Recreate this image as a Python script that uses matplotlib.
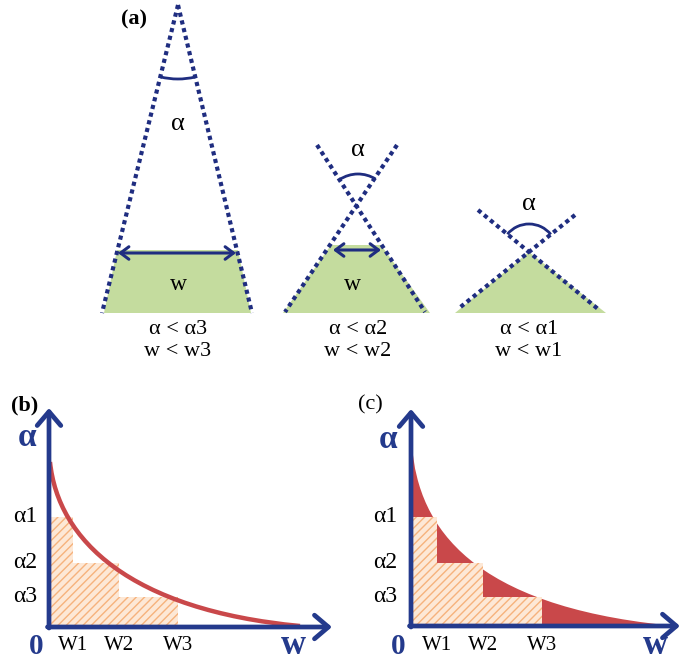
import matplotlib

matplotlib.use("Agg")
import matplotlib.pyplot as plt
from matplotlib.patches import Arc, Polygon, PathPatch
from matplotlib.path import Path

plt.rcParams["font.family"] = ["Liberation Serif", "DejaVu Serif"]
plt.rcParams["hatch.linewidth"] = 1.0

NAVY = "#1f2d80"
AXIS_BLUE = "#243a8c"
RED = "#c9484a"
GREEN = "#c4dc9e"
HATCH = "#f6b27c"
PEACH = "#fde8d6"

# ---- panel (a): three apertures, pixel layout (x right, y down)
# dotted lines: (x0, y0, x1, y1)
lines_a = [
    [(178, 5, 102, 313), (178, 5, 252, 313)],
    [(317, 145, 425, 312), (397, 145, 285, 312)],
    [(478, 210, 598, 309), (575, 215, 458, 309)],
]
green_a = [
    [(117, 250), (238, 250), (251, 313), (104, 313)],
    [(331, 245), (381, 245), (430, 313), (283, 313)],
    [(529, 252), (606, 313), (455, 313)],
]
# angle arcs: centre, radius, theta1, theta2
arcs_a = [((178, 5), 74, 76.5, 103.9), ((358, 207), 33, 236.5, 302.2), ((529, 252), 28, 219.5, 321.2)]
alpha_pos_a = [(178, 124), (358, 150), (529, 204)]
width_arrows = [(118, 236, 253), (333, 381, 250)]
w_text_a = [(178, 284), (352, 285)]
centers_a = [178, 358, 529]
captions_a = [("α < α3", "w < w3"), ("α < α2", "w < w2"), ("α < α1", "w < w1")]

# ---- panels (b) and (c): origin at axis corner, pixel units, y up
w_b = [24, 70, 129]
a_b = [110, 64, 30]
curve_b = [(1, 165), (9, 87), (81, 17), (251, 1)]

w_c = [26, 72, 131]
a_c = [109, 63, 29]
curve_c = [(1, 181), (7, 96), (64, 21), (254, 1)]

w_labels = ["W1", "W2", "W3"]
a_labels = ["α1", "α2", "α3"]

fig = plt.figure(figsize=(6.83, 6.63), dpi=100)
fig.patch.set_facecolor("white")

# panel (a)
ax = fig.add_axes([0, 280 / 663, 1, 383 / 663])
ax.set_xlim(0, 683)
ax.set_ylim(383, 0)
ax.axis("off")

for pts in green_a:
    ax.add_patch(Polygon(pts, closed=True, facecolor=GREEN, edgecolor="none", zorder=1))
for pair in lines_a:
    for x0, y0, x1, y1 in pair:
        ax.plot([x0, x1], [y0, y1], color=NAVY, lw=3.0, linestyle=(0, (1, 0.9)), zorder=3)
for (cx, cy), r, t1, t2 in arcs_a:
    ax.add_patch(Arc((cx, cy), 2 * r, 2 * r, theta1=t1, theta2=t2, color=NAVY, lw=2, zorder=4))
for x, y in alpha_pos_a:
    ax.text(x, y, "α", ha="center", va="center", fontsize=19)
for x0, x1, y in width_arrows:
    ax.annotate("", xy=(x0, y), xytext=(x1, y),
                arrowprops=dict(arrowstyle="<->,head_length=0.6,head_width=0.45", color=NAVY, lw=2.2,
                                shrinkA=0, shrinkB=0), zorder=4)
for x, y in w_text_a:
    ax.text(x, y, "w", ha="center", va="center", fontsize=17)
for x, (c1, c2) in zip(centers_a, captions_a):
    ax.text(x, 330, c1, ha="center", va="center", fontsize=16)
    ax.text(x, 351, c2, ha="center", va="center", fontsize=16)
ax.text(134, 19, "(a)", ha="center", va="center", fontsize=16, fontweight="bold")


def step_poly(ws, als):
    pts = [(0, 0), (0, als[0])]
    for i, w in enumerate(ws):
        pts.append((w, als[i]))
        nxt = als[i + 1] if i + 1 < len(als) else 0
        pts.append((w, nxt))
    return pts


def bezier(cp):
    return Path(cp, [Path.MOVETO, Path.CURVE4, Path.CURVE4, Path.CURVE4])


def draw_axes_arrows(ax, xtip, ytip):
    style = "->,head_length=1.0,head_width=0.85"
    ax.annotate("", xy=(0, ytip), xytext=(0, -1),
                arrowprops=dict(arrowstyle=style, color=AXIS_BLUE, lw=3.4, shrinkA=0, shrinkB=0), zorder=6)
    ax.annotate("", xy=(xtip, 0), xytext=(-1.5, 0),
                arrowprops=dict(arrowstyle=style, color=AXIS_BLUE, lw=3.4, shrinkA=0, shrinkB=0), zorder=6)


def add_labels(ax, ws, als, tag, tag_xy, alpha_xy, ax_label_x, wx):
    ax.text(*tag_xy, tag, ha="center", va="center", fontsize=16,
            fontweight="bold" if tag == "(b)" else "normal")
    ax.text(*alpha_xy, "α", ha="center", va="center", fontsize=24, fontweight="bold", color=AXIS_BLUE)
    for a, lab in zip(als, a_labels):
        ax.text(ax_label_x, a, lab, ha="center", va="center", fontsize=17)
    for w, lab in zip(ws, w_labels):
        ax.text(w, -19, lab, ha="center", va="center", fontsize=15)
    ax.text(-13, -20, "0", ha="center", va="center", fontsize=21, fontweight="bold", color=AXIS_BLUE)
    ax.text(wx, -19, "w", ha="center", va="center", fontsize=25, fontweight="bold", color=AXIS_BLUE)


# panel (b)
axb = fig.add_axes([0, 0, 339 / 683, 283 / 663])
axb.set_xlim(-49, 290)
axb.set_ylim(-36, 247)
axb.axis("off")
axb.add_patch(Polygon(step_poly(w_b, a_b), closed=True, facecolor=PEACH, edgecolor=HATCH,
                      hatch="////", lw=0, zorder=1))
axb.add_patch(PathPatch(bezier(curve_b), facecolor="none", edgecolor=RED, lw=3.2, zorder=3))
draw_axes_arrows(axb, 283, 219)
add_labels(axb, w_b, a_b, "(b)", (-24, 222), (-22, 190), -24, 244)

# panel (c)
axc = fig.add_axes([340 / 683, 0, 343 / 683, 283 / 663])
axc.set_xlim(-71, 272)
axc.set_ylim(-37, 246)
axc.axis("off")
fill_verts = list(curve_c) + [(0, 0), (0, 0)]
fill_codes = [Path.MOVETO, Path.CURVE4, Path.CURVE4, Path.CURVE4, Path.LINETO, Path.CLOSEPOLY]
axc.add_patch(PathPatch(Path(fill_verts, fill_codes), facecolor=RED, edgecolor="none", zorder=1))
axc.add_patch(Polygon(step_poly(w_c, a_c), closed=True, facecolor=PEACH, edgecolor=HATCH,
                      hatch="////", lw=0, zorder=2))
draw_axes_arrows(axc, 269, 217)
add_labels(axc, w_c, a_c, "(c)", (-41, 221), (-23, 186), -26, 244)

fig.savefig("out.png", dpi=100, facecolor="white")
